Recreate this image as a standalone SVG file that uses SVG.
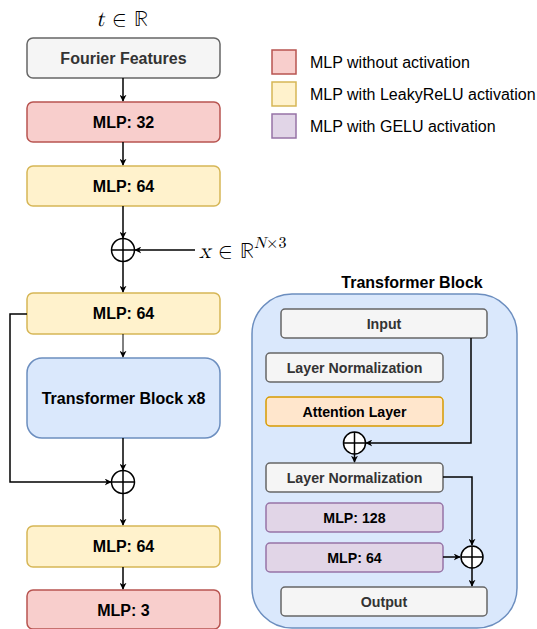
<svg xmlns="http://www.w3.org/2000/svg" width="537" height="629" viewBox="0 0 537 629">
  <style>
    .box { stroke-width: 1.5; }
    .gray { fill: #f5f5f5; stroke: #666666; }
    .red { fill: #f8cecc; stroke: #b85450; }
    .yellow { fill: #fff2cc; stroke: #d6b656; }
    .blue { fill: #dae8fc; stroke: #6c8ebf; }
    .purple { fill: #e1d5e7; stroke: #9673a6; }
    .orange { fill: #ffe6cc; stroke: #d79b00; }
    .lbl { font-family: "Liberation Sans", Arial, sans-serif; font-weight: bold; text-anchor: middle; dominant-baseline: central; fill: #000; }
    .big { font-size: 16px; }
    .small { font-size: 14.2px; }
    .dark { fill: #333333; }
    .legend { font-family: "Liberation Sans", Arial, sans-serif; font-size: 16px; fill: #000; dominant-baseline: central; }
    .math { font-family: "Latin Modern Math", "DejaVu Serif", "Liberation Serif", serif; font-size: 22px; fill: #000; }
    .wire { fill: none; stroke: #000; stroke-width: 1.5; }
    .thin { stroke-width: 1; }
    .sum { fill: #fff; stroke: #000; stroke-width: 1.5; }
  </style>
  <defs>
    <marker id="arrow" viewBox="0 0 10 10" refX="9" refY="5" markerWidth="7" markerHeight="7" markerUnits="userSpaceOnUse" orient="auto">
      <path d="M0,0 L10,5 L0,10 L3,5 Z" fill="#000"/>
    </marker>
  </defs>

  <!-- legend -->
  <g id="legend">
    <rect class="box red" x="272" y="50" width="24" height="24"/>
    <text class="legend" x="310" y="62">MLP without activation</text>
    <rect class="box yellow" x="272" y="82" width="24" height="24"/>
    <text class="legend" x="310" y="94">MLP with LeakyReLU activation</text>
    <rect class="box purple" x="272" y="114" width="24" height="24"/>
    <text class="legend" x="310" y="126">MLP with GELU activation</text>
  </g>

  <!-- transformer block detail container -->
  <g id="tb-container">
    <text class="lbl big" x="412" y="282">Transformer Block</text>
    <rect class="box blue" x="252" y="294" width="265" height="334" rx="40"/>
  </g>

  <!-- input labels -->
  <g id="t-input">
    <text class="math" x="122" y="26" text-anchor="middle" font-size="23"><tspan font-style="italic">t</tspan> ∈ ℝ</text>
  </g>
  <g id="x-input">
    <text class="math" x="199" y="258"><tspan font-style="italic">x</tspan> ∈ ℝ<tspan font-size="16" dy="-10"><tspan font-style="italic">N</tspan>×3</tspan></text>
  </g>

  <!-- main pipeline -->
  <g id="fourier">
    <rect class="box gray" x="27" y="38" width="193" height="40" rx="6"/>
    <text class="lbl big dark" x="123.5" y="58">Fourier Features</text>
  </g>
  <g id="mlp32">
    <rect class="box red" x="27" y="102" width="193" height="40" rx="6"/>
    <text class="lbl big" x="123.5" y="122">MLP: 32</text>
  </g>
  <g id="mlp64a">
    <rect class="box yellow" x="27" y="166" width="193" height="40" rx="6"/>
    <text class="lbl big" x="123.5" y="186">MLP: 64</text>
  </g>
  <g id="sum1">
    <circle class="sum" cx="123" cy="250" r="11.5"/>
    <path class="wire" d="M111.5,250 H134.5 M123,238.5 V261.5"/>
  </g>
  <g id="mlp64b">
    <rect class="box yellow" x="27" y="293" width="193" height="41" rx="6"/>
    <text class="lbl big" x="123.5" y="313.5">MLP: 64</text>
  </g>
  <g id="transformer">
    <rect class="box blue" x="27" y="358" width="193" height="80" rx="15"/>
    <text class="lbl big" x="123.5" y="398">Transformer Block x8</text>
  </g>
  <g id="sum2">
    <circle class="sum" cx="123" cy="482" r="11.5"/>
    <path class="wire" d="M111.5,482 H134.5 M123,470.5 V493.5"/>
  </g>
  <g id="mlp64c">
    <rect class="box yellow" x="27" y="526" width="193" height="41" rx="6"/>
    <text class="lbl big" x="123.5" y="546.5">MLP: 64</text>
  </g>
  <g id="mlp3">
    <rect class="box red" x="27" y="590" width="193" height="39" rx="6"/>
    <text class="lbl big" x="123.5" y="610">MLP: 3</text>
  </g>

  <!-- transformer block internals -->
  <g id="tb-input">
    <rect class="box gray" x="281" y="309" width="206" height="29" rx="4"/>
    <text class="lbl small dark" x="384" y="323.5">Input</text>
  </g>
  <g id="tb-ln1">
    <rect class="box gray" x="266" y="353" width="177" height="29" rx="4"/>
    <text class="lbl small dark" x="354.5" y="367.5">Layer Normalization</text>
  </g>
  <g id="tb-attn">
    <rect class="box orange" x="266" y="397" width="177" height="29" rx="4"/>
    <text class="lbl small" x="354.5" y="411.5">Attention Layer</text>
  </g>
  <g id="tb-sum1">
    <circle class="sum" cx="354.5" cy="443" r="11"/>
    <path class="wire" d="M343.5,443 H365.5 M354.5,432 V454"/>
  </g>
  <g id="tb-ln2">
    <rect class="box gray" x="266" y="463" width="177" height="29" rx="4"/>
    <text class="lbl small dark" x="354.5" y="477.5">Layer Normalization</text>
  </g>
  <g id="tb-mlp128">
    <rect class="box purple" x="266" y="503" width="177" height="29" rx="4"/>
    <text class="lbl small" x="354.5" y="517.5">MLP: 128</text>
  </g>
  <g id="tb-mlp64">
    <rect class="box purple" x="266" y="543" width="177" height="29" rx="4"/>
    <text class="lbl small" x="354.5" y="557.5">MLP: 64</text>
  </g>
  <g id="tb-sum2">
    <circle class="sum" cx="472" cy="557" r="11"/>
    <path class="wire" d="M461,557 H483 M472,546 V568"/>
  </g>
  <g id="tb-output">
    <rect class="box gray" x="281" y="587" width="206" height="29" rx="4"/>
    <text class="lbl small dark" x="384" y="601.5">Output</text>
  </g>

  <!-- connectors -->
  <g id="connectors">
    <path class="wire" d="M123,78 V101" marker-end="url(#arrow)"/>
    <path class="wire" d="M123,142 V165" marker-end="url(#arrow)"/>
    <path class="wire" d="M123,206 V238" marker-end="url(#arrow)"/>
    <path class="wire" d="M195,250 H135" marker-end="url(#arrow)"/>
    <path class="wire" d="M123,262 V292" marker-end="url(#arrow)"/>
    <path class="wire thin" d="M123,334 V357" marker-end="url(#arrow)"/>
    <path class="wire" d="M123,438 V470" marker-end="url(#arrow)"/>
    <path class="wire" d="M27,314 H10 V482 H111" marker-end="url(#arrow)"/>
    <path class="wire" d="M123,494 V525" marker-end="url(#arrow)"/>
    <path class="wire" d="M123,567 V589" marker-end="url(#arrow)"/>

    <path class="wire" d="M471,338 V443 H366" marker-end="url(#arrow)"/>
    <path class="wire" d="M354.5,454 V462" marker-end="url(#arrow)"/>
    <path class="wire" d="M443,477 H472 V545" marker-end="url(#arrow)"/>
    <path class="wire" d="M443,557 H460" marker-end="url(#arrow)"/>
    <path class="wire" d="M472,568 V586" marker-end="url(#arrow)"/>
  </g>
</svg>
